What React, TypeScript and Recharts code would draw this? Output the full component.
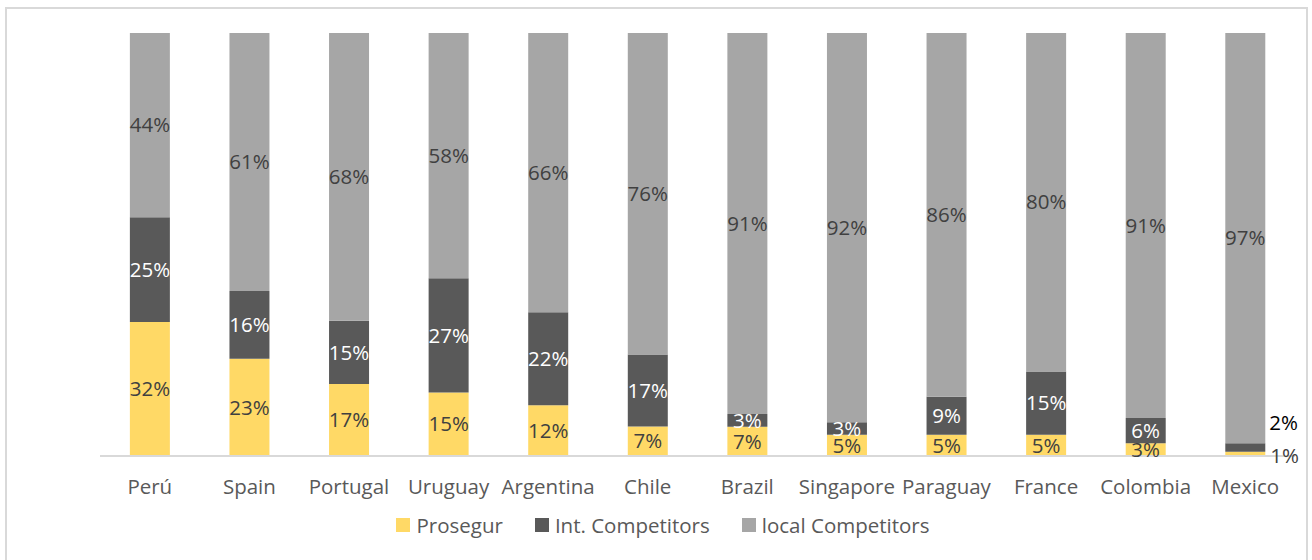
import React from 'react';
import { BarChart, Bar, XAxis, YAxis, Legend, LabelList } from 'recharts';

const categories = ['Perú', 'Spain', 'Portugal', 'Uruguay', 'Argentina', 'Chile', 'Brazil', 'Singapore', 'Paraguay', 'France', 'Colombia', 'Mexico'];
const prosegur = [32, 23, 17, 15, 12, 7, 7, 5, 5, 5, 3, 1];
const intCompetitors = [25, 16, 15, 27, 22, 17, 3, 3, 9, 15, 6, 2];
const localCompetitors = [44, 61, 68, 58, 66, 76, 91, 92, 86, 80, 91, 97];
const seriesNames = ['Prosegur', 'Int. Competitors', 'local Competitors'];
const seriesColors = ['#FFD966', '#595959', '#A6A6A6'];

const data = categories.map((c, i) => ({
  name: c,
  prosegur: prosegur[i],
  intComp: intCompetitors[i],
  localComp: localCompetitors[i],
}));

const FONT = '"Open Sans", "Noto Sans", sans-serif';
const FS = 20.5;
const LAST = categories.length - 1;

const makeLabel = (values: number[], color: string, series: number) => (props: any) => {
  const { x, y, width, height, index } = props;
  const v = values[index];
  if (index === LAST) {
    if (series === 0) {
      return (
        <text x={x + width + 5} y={y + height} dy="0.35em" fill="#404040" fontSize={FS} fontFamily={FONT} textAnchor="start">
          {v}%
        </text>
      );
    }
    if (series === 1) {
      return (
        <text x={x + width + 4} y={y - 20} dy="0.35em" fill="#000000" fontSize={FS} fontFamily={FONT} textAnchor="start">
          {v}%
        </text>
      );
    }
  }
  return (
    <text x={x + width / 2} y={y + height / 2} dy="0.35em" fill={color} fontSize={FS} fontFamily={FONT} textAnchor="middle">
      {v}%
    </text>
  );
};

const LegendContent = () => (
  <div style={{ display: 'flex', justifyContent: 'center', paddingLeft: 14, fontFamily: FONT, fontSize: FS, color: '#595959' }}>
    {seriesNames.map((n, i) => (
      <div key={n} style={{ display: 'flex', alignItems: 'center', marginRight: i < 2 ? 32 : 0 }}>
        <div style={{ width: 14, height: 14, background: seriesColors[i], marginRight: 6 }} />
        <span>{n}</span>
      </div>
    ))}
  </div>
);

export default function App() {
  return (
    <div style={{ position: 'absolute', left: 0, top: 0, width: 1312, height: 560, background: '#fff' }}>
      <div style={{ position: 'absolute', left: 5, top: 7, width: 1303, height: 560, border: '2px solid #D9D9D9', boxSizing: 'border-box' }} />
      <div style={{ position: 'absolute', left: 0, top: 0 }}>
        <BarChart
          width={1312}
          height={560}
          data={data}
          stackOffset="expand"
          barCategoryGap="30%"
          margin={{ top: 33, right: 17, left: 100, bottom: 48 }}
        >
          <XAxis
            dataKey="name"
            axisLine={{ stroke: '#D9D9D9', strokeWidth: 2 }}
            tickLine={false}
            tickMargin={17}
            interval={0}
            tick={{ fill: '#595959', fontSize: FS, fontFamily: FONT }}
          />
          <YAxis hide domain={[0, 1]} />
          <Legend
            verticalAlign="bottom"
            content={<LegendContent />}
            wrapperStyle={{ position: 'absolute', left: 0, top: 511, width: 1312, height: 26 }}
          />
          <Bar dataKey="prosegur" name={seriesNames[0]} stackId="a" fill={seriesColors[0]} isAnimationActive={false}>
            <LabelList dataKey="prosegur" content={makeLabel(prosegur, '#404040', 0)} />
          </Bar>
          <Bar dataKey="intComp" name={seriesNames[1]} stackId="a" fill={seriesColors[1]} isAnimationActive={false}>
            <LabelList dataKey="intComp" content={makeLabel(intCompetitors, '#FFFFFF', 1)} />
          </Bar>
          <Bar dataKey="localComp" name={seriesNames[2]} stackId="a" fill={seriesColors[2]} isAnimationActive={false}>
            <LabelList dataKey="localComp" content={makeLabel(localCompetitors, '#404040', 2)} />
          </Bar>
        </BarChart>
      </div>
    </div>
  );
}
